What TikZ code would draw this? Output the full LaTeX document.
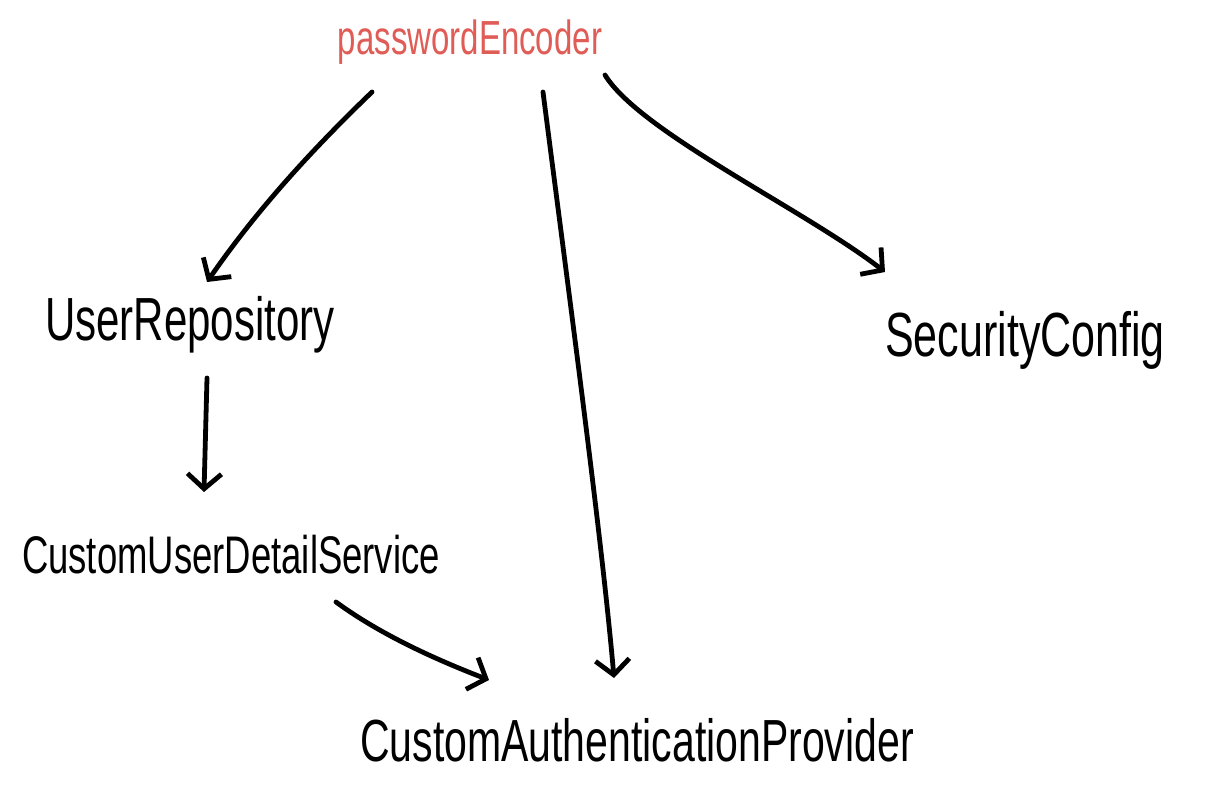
\documentclass[tikz,border=0pt]{standalone}
\usepackage{fontspec}
\setmainfont{Liberation Sans}
\usetikzlibrary{arrows.meta}
\definecolor{penred}{RGB}{224,92,86}
\tikzset{
  lbl/.style={inner sep=0pt, anchor=center},
  conn/.style={line width=4.8pt, line cap=round, line join=round,
    -{Straight Barb[length=15pt,width=34pt,line width=4.8pt]}},
}
\newcommand{\tall}[2]{\fontsize{#1}{#1}\selectfont\scalebox{1}[1.45]{#2}}
\begin{document}
\begin{tikzpicture}[x=1pt,y=-1pt]
\useasboundingbox (0,0) rectangle (1205,804);
\node[lbl, text=penred] (pe) at (470,42) {\tall{33}{passwordEncoder}};
\node[lbl] (ur) at (190,325) {\tall{42}{UserRepository}};
\node[lbl] (sc) at (1025,340) {\tall{43}{SecurityConfig}};
\node[lbl] (cud) at (231,555) {\tall{36.5}{CustomUserDetailService}};
\node[lbl] (cap) at (637,740) {\tall{41}{CustomAuthenticationProvider}};

\draw[conn] ([shift={(-98,50)}]pe.center) .. controls ([shift={(-150,100)}]pe.center) and ([shift={(70,-120)}]ur.center) .. ([shift={(17,-43)}]ur.center);
\draw[conn] ([shift={(73,50)}]pe.center) .. controls ([shift={(100,260)}]pe.center) and ([shift={(-35,-200)}]cap.center) .. ([shift={(-23,-62)}]cap.center);
\draw[conn] ([shift={(135,33)}]pe.center) .. controls ([shift={(170,90)}]pe.center) and ([shift={(-220,-130)}]sc.center) .. ([shift={(-140,-68)}]sc.center);
\draw[conn] ([shift={(17,53)}]ur.center) -- ([shift={(-27,-63)}]cud.center);
\draw[conn] ([shift={(105,47)}]cud.center) .. controls ([shift={(150,80)}]cud.center) and ([shift={(-200,-80)}]cap.center) .. ([shift={(-148,-60)}]cap.center);
\end{tikzpicture}
\end{document}
